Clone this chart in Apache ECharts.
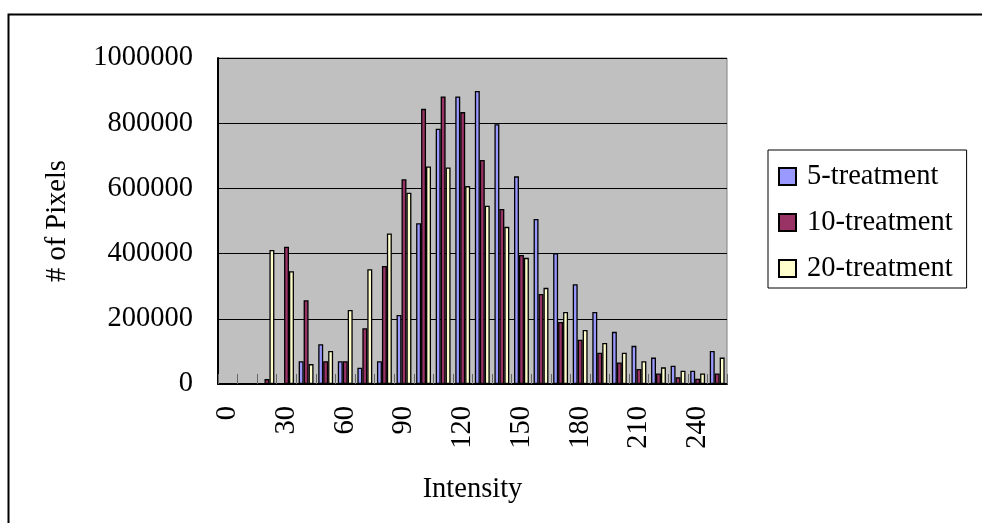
<!DOCTYPE html>
<html>
<head>
<meta charset="utf-8">
<script src="https://cdn.jsdelivr.net/npm/echarts@6/dist/echarts.min.js"></script>
<style>
  html, body { margin: 0; padding: 0; background: #ffffff; }
  #chart { width: 982px; height: 523px; }
</style>
</head>
<body>
<div id="chart"></div>
<script>
// Intensity bins (0..250 in steps of 10)
const intensity = ['0','10','20','30','40','50','60','70','80','90','100','110','120',
  '130','140','150','160','170','180','190','200','210','220','230','240','250'];

// Pixel counts per bin for each treatment
const treat5 = [0, 0, 0, 0, 70000, 122000, 70000, 50000, 70000, 212000, 493000, 783000, 882000,
  899000, 797000, 637000, 506000, 401000, 306000, 221000, 160000, 117000, 81000, 56000, 41000, 101000];
const treat10 = [0, 0, 15000, 421000, 257000, 70000, 70000, 171000, 362000, 628000, 844000, 882000, 834000,
  687000, 537000, 396000, 276000, 190000, 136000, 96000, 66000, 46000, 32000, 21000, 16000, 32000];
const treat20 = [0, 0, 411000, 346000, 61000, 101000, 227000, 352000, 462000, 587000, 667000, 664000, 607000,
  547000, 482000, 387000, 295000, 221000, 166000, 126000, 96000, 70000, 51000, 41000, 32000, 81000];

const seriesNames = ['5-treatment', '10-treatment', '20-treatment'];
const yTicks = { min: 0, max: 1000000, step: 200000 };

const FONT = '"Liberation Serif", "Times New Roman", serif';
const FS = 28.5;
const colors = ['#9999FF', '#993366', '#FFFFCC'];

const chart = echarts.init(document.getElementById('chart'), null, { renderer: 'canvas' });

function barSeries(name, data, color) {
  return {
    name: name,
    type: 'bar',
    data: data,
    barGap: '0%',
    barCategoryGap: '24%',
    itemStyle: { color: color, borderColor: '#000', borderWidth: 1.3 },
    emphasis: { disabled: true },
    animation: false
  };
}

chart.setOption({
  animation: false,
  backgroundColor: '#ffffff',
  graphic: [{
    type: 'rect',
    shape: { x: 8.5, y: 14.5, width: 1000, height: 600 },
    style: { fill: 'none', stroke: '#000', lineWidth: 2 },
    silent: true,
    z: -1
  }],
  grid: {
    left: 218, top: 58, right: 255, bottom: 139,
    show: true,
    backgroundColor: '#C0C0C0',
    borderColor: '#808080',
    borderWidth: 1
  },
  legend: {
    orient: 'vertical',
    left: 768,
    top: 150,
    padding: [12, 14, 5, 10],
    itemWidth: 17,
    itemHeight: 17,
    itemGap: 17,
    icon: 'rect',
    borderColor: '#000',
    borderWidth: 1,
    backgroundColor: '#fff',
    textStyle: { fontFamily: FONT, fontSize: FS, color: '#000', padding: [0, 0, 0, 6] },
    data: seriesNames
  },
  xAxis: {
    type: 'category',
    data: intensity,
    boundaryGap: true,
    name: 'Intensity',
    nameLocation: 'middle',
    nameGap: 91,
    nameTextStyle: { fontFamily: FONT, fontSize: FS, color: '#000', verticalAlign: 'top' },
    axisLine: { lineStyle: { color: '#000', width: 2 } },
    axisTick: { show: true, inside: true, length: 10, interval: 0, lineStyle: { color: '#666', width: 1 } },
    axisLabel: {
      interval: 2,
      rotate: 90,
      margin: 22,
      fontFamily: FONT,
      fontSize: FS,
      color: '#000'
    },
    splitLine: { show: false }
  },
  yAxis: {
    type: 'value',
    min: yTicks.min,
    max: yTicks.max,
    interval: yTicks.step,
    name: '# of Pixels',
    nameLocation: 'middle',
    nameGap: 146,
    nameTextStyle: { fontFamily: FONT, fontSize: FS, color: '#000' },
    axisLine: { show: true, lineStyle: { color: '#000', width: 2 } },
    axisTick: { show: true, inside: true, length: 8, lineStyle: { color: '#000' } },
    axisLabel: {
      margin: 25,
      fontFamily: FONT,
      fontSize: FS,
      color: '#000',
      formatter: function (v) { return String(v); }
    },
    splitLine: { show: true, lineStyle: { color: '#000', width: 1 } }
  },
  series: [
    barSeries(seriesNames[0], treat5, colors[0]),
    barSeries(seriesNames[1], treat10, colors[1]),
    barSeries(seriesNames[2], treat20, colors[2])
  ]
});
</script>
</body>
</html>
